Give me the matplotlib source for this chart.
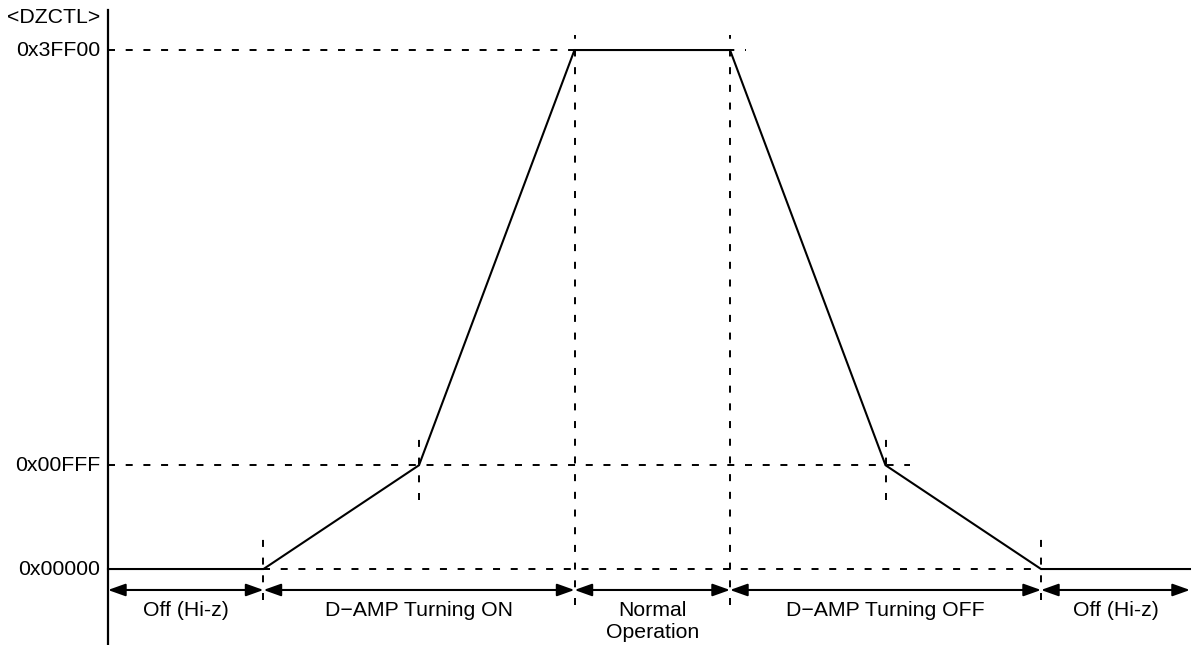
import matplotlib
matplotlib.use("Agg")
import matplotlib.pyplot as plt
from matplotlib.patches import FancyArrowPatch

plt.rcParams['font.family'] = ['Liberation Sans', 'DejaVu Sans']

# DZCTL ramp profile (x in phase units, y in drawing levels)
curve_t = [0, 1, 2, 3, 4, 5, 6, 6.958]
curve_v = [0, 0, 1, 5, 5, 1, 0, 0]

level_v = [0, 1, 5]
level_labels = ['0x00000', '0x00FFF', '0x3FF00']

phase_edges = [0, 1, 3, 4, 6, 6.958]
phase_labels = ['Off (Hi-z)', 'D\u2212AMP Turning ON', 'Normal\nOperation',
                'D\u2212AMP Turning OFF', 'Off (Hi-z)']

fig = plt.figure(figsize=(11.92, 6.45), dpi=100)
ax = fig.add_axes([0, 0, 1, 1])
ax.set_xlim(-0.6945, 6.971)
ax.set_ylim(-0.732, 5.482)
ax.axis('off')

fs = 15.3
dash = dict(color='black', lw=1.4, linestyle=(0, (3.6, 5.5)))

# y axis
ax.plot([0, 0], [-0.75, 5.385], color='black', lw=1.6)
ax.text(-0.05, 5.31, '<DZCTL>', ha='right', va='center', fontsize=fs)

# level labels + dashed guides
guide_end = {0: (1, 6), 1: (0, 5.16), 5: (0, 4.10)}
for v, lab in zip(level_v, level_labels):
    ax.text(-0.05, v, lab, ha='right', va='center', fontsize=fs)
    x0, x1 = guide_end[v]
    ax.plot([x0, x1], [v, v], **dash)

# vertical dashed markers at the corners
vert_ext = {1: (-0.30, 0.30), 2: (0.665, 1.32), 3: (-0.35, 5.14),
            4: (-0.35, 5.14), 5: (0.665, 1.32), 6: (-0.30, 0.30)}
for t, (y0, y1) in vert_ext.items():
    ax.plot([t, t], [y0, y1], **dash)

# profile curve
ax.plot(curve_t, curve_v, color='black', lw=1.5, solid_joinstyle='miter')

# phase arrows and labels
arrow_y = -0.202
for a, b, lab in zip(phase_edges[:-1], phase_edges[1:], phase_labels):
    arr = FancyArrowPatch((a, arrow_y), (b, arrow_y),
                          arrowstyle='<|-|>,head_length=0.7,head_width=0.25',
                          mutation_scale=15, color='black', lw=1.5,
                          shrinkA=0, shrinkB=0)
    ax.add_patch(arr)
    ax.text((a + b) / 2, -0.31, lab, ha='center', va='top', fontsize=fs,
            linespacing=1.2)

fig.savefig('out.png', dpi=100)
